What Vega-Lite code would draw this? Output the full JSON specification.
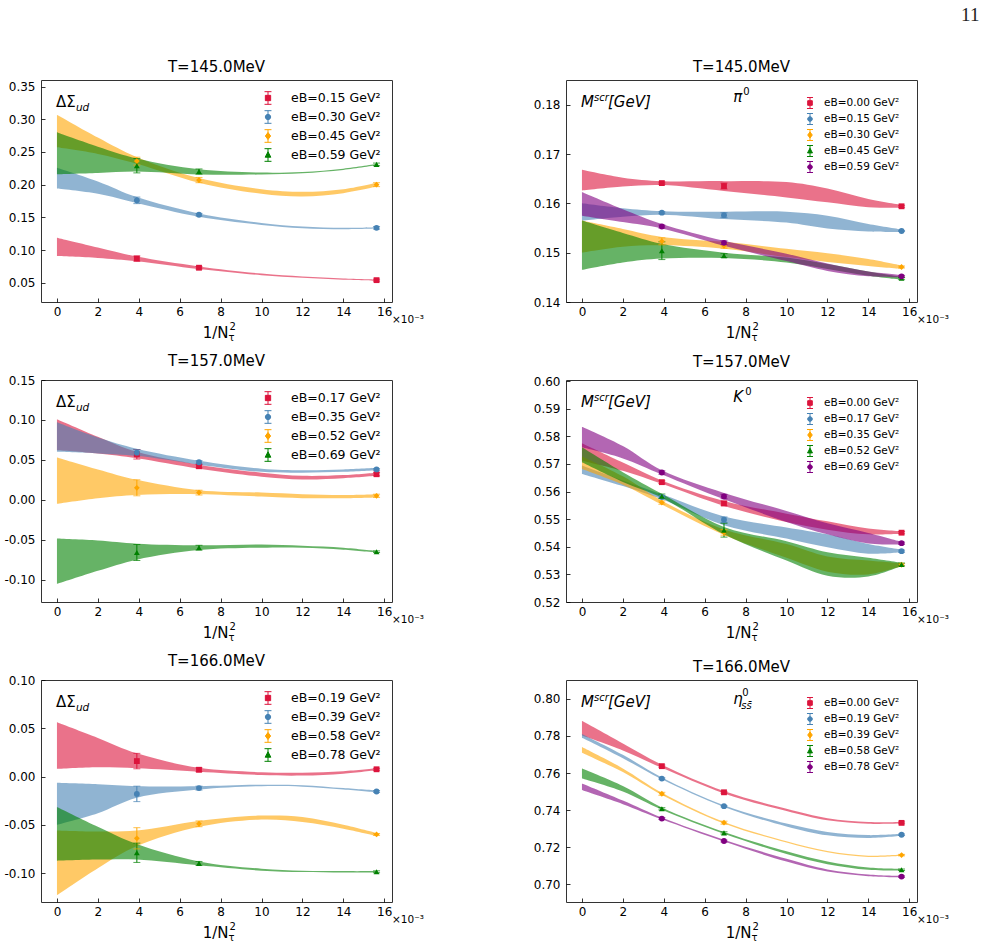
{
  "$schema": "https://vega.github.io/schema/vega-lite/v6.json",
  "padding": {"left": 3, "top": 5, "right": 5, "bottom": 5},
  "title": {"text": "11", "anchor": "end", "font": "Liberation Serif", "fontSize": 19, "fontWeight": "normal", "color": "#222", "offset": 35, "dx": 30},
  "config": {
    "font": "DejaVu Sans",
    "view": {"stroke": "#333", "strokeWidth": 1},
    "axis": {"domain": false, "grid": false, "tickSize": -4, "tickColor": "#000", "tickWidth": 0.8, "labelFontSize": 12, "labelColor": "#000", "labelOverlap": false},
    "axisX": {"labelPadding": 8},
    "axisY": {"labelPadding": 10},
    "title": {"fontSize": 15, "fontWeight": "normal", "offset": 5, "color": "#000"},
    "text": {"color": "#000"},
    "area": {"interpolate": "catmull-rom"}
  },
  "datasets": {
    "bands": [
      {"p":"A","s":"eB=0.15 GeV²","x":0,"lo":0.091,"hi":0.119},
      {"p":"A","s":"eB=0.15 GeV²","x":2,"lo":0.088,"hi":0.104},
      {"p":"A","s":"eB=0.15 GeV²","x":3.906,"lo":0.083,"hi":0.090},
      {"p":"A","s":"eB=0.15 GeV²","x":6.944,"lo":0.071,"hi":0.075},
      {"p":"A","s":"eB=0.15 GeV²","x":10,"lo":0.0615,"hi":0.064},
      {"p":"A","s":"eB=0.15 GeV²","x":12,"lo":0.0575,"hi":0.0595},
      {"p":"A","s":"eB=0.15 GeV²","x":14,"lo":0.0545,"hi":0.0565},
      {"p":"A","s":"eB=0.15 GeV²","x":15.625,"lo":0.053,"hi":0.055},
      {"p":"A","s":"eB=0.30 GeV²","x":0,"lo":0.194,"hi":0.226},
      {"p":"A","s":"eB=0.30 GeV²","x":2,"lo":0.186,"hi":0.205},
      {"p":"A","s":"eB=0.30 GeV²","x":3.906,"lo":0.172,"hi":0.181},
      {"p":"A","s":"eB=0.30 GeV²","x":6.944,"lo":0.151,"hi":0.156},
      {"p":"A","s":"eB=0.30 GeV²","x":10,"lo":0.1385,"hi":0.1415},
      {"p":"A","s":"eB=0.30 GeV²","x":12,"lo":0.1335,"hi":0.136},
      {"p":"A","s":"eB=0.30 GeV²","x":14,"lo":0.132,"hi":0.134},
      {"p":"A","s":"eB=0.30 GeV²","x":15.625,"lo":0.133,"hi":0.135},
      {"p":"A","s":"eB=0.45 GeV²","x":0,"lo":0.257,"hi":0.307},
      {"p":"A","s":"eB=0.45 GeV²","x":2,"lo":0.247,"hi":0.272},
      {"p":"A","s":"eB=0.45 GeV²","x":3.906,"lo":0.232,"hi":0.242},
      {"p":"A","s":"eB=0.45 GeV²","x":6.944,"lo":0.203,"hi":0.21},
      {"p":"A","s":"eB=0.45 GeV²","x":10,"lo":0.186,"hi":0.193},
      {"p":"A","s":"eB=0.45 GeV²","x":12,"lo":0.182,"hi":0.189},
      {"p":"A","s":"eB=0.45 GeV²","x":14,"lo":0.187,"hi":0.193},
      {"p":"A","s":"eB=0.45 GeV²","x":15.625,"lo":0.197,"hi":0.203},
      {"p":"A","s":"eB=0.59 GeV²","x":0,"lo":0.216,"hi":0.28},
      {"p":"A","s":"eB=0.59 GeV²","x":2,"lo":0.218,"hi":0.258},
      {"p":"A","s":"eB=0.59 GeV²","x":3.906,"lo":0.22,"hi":0.24},
      {"p":"A","s":"eB=0.59 GeV²","x":6.944,"lo":0.2155,"hi":0.2235},
      {"p":"A","s":"eB=0.59 GeV²","x":10,"lo":0.2155,"hi":0.2185},
      {"p":"A","s":"eB=0.59 GeV²","x":12,"lo":0.2175,"hi":0.2195},
      {"p":"A","s":"eB=0.59 GeV²","x":14,"lo":0.2225,"hi":0.2245},
      {"p":"A","s":"eB=0.59 GeV²","x":15.625,"lo":0.2295,"hi":0.2315},

      {"p":"B","s":"eB=0.00 GeV²","x":0,"lo":0.1626,"hi":0.1668},
      {"p":"B","s":"eB=0.00 GeV²","x":2,"lo":0.1634,"hi":0.1652},
      {"p":"B","s":"eB=0.00 GeV²","x":3.906,"lo":0.1637,"hi":0.1645},
      {"p":"B","s":"eB=0.00 GeV²","x":6.944,"lo":0.1625,"hi":0.1645},
      {"p":"B","s":"eB=0.00 GeV²","x":10,"lo":0.1612,"hi":0.1643},
      {"p":"B","s":"eB=0.00 GeV²","x":12,"lo":0.1602,"hi":0.163},
      {"p":"B","s":"eB=0.00 GeV²","x":14,"lo":0.1592,"hi":0.1609},
      {"p":"B","s":"eB=0.00 GeV²","x":15.625,"lo":0.1591,"hi":0.1597},
      {"p":"B","s":"eB=0.15 GeV²","x":0,"lo":0.1565,"hi":0.16},
      {"p":"B","s":"eB=0.15 GeV²","x":2,"lo":0.1573,"hi":0.159},
      {"p":"B","s":"eB=0.15 GeV²","x":3.906,"lo":0.1577,"hi":0.1584},
      {"p":"B","s":"eB=0.15 GeV²","x":6.944,"lo":0.1568,"hi":0.1583},
      {"p":"B","s":"eB=0.15 GeV²","x":10,"lo":0.1561,"hi":0.1583},
      {"p":"B","s":"eB=0.15 GeV²","x":12,"lo":0.1549,"hi":0.1575},
      {"p":"B","s":"eB=0.15 GeV²","x":14,"lo":0.1543,"hi":0.1558},
      {"p":"B","s":"eB=0.15 GeV²","x":15.625,"lo":0.1542,"hi":0.1547},
      {"p":"B","s":"eB=0.30 GeV²","x":0,"lo":0.15,"hi":0.1565},
      {"p":"B","s":"eB=0.30 GeV²","x":2,"lo":0.1512,"hi":0.1548},
      {"p":"B","s":"eB=0.30 GeV²","x":3.906,"lo":0.1515,"hi":0.1532},
      {"p":"B","s":"eB=0.30 GeV²","x":6.944,"lo":0.1508,"hi":0.1522},
      {"p":"B","s":"eB=0.30 GeV²","x":10,"lo":0.1491,"hi":0.1508},
      {"p":"B","s":"eB=0.30 GeV²","x":12,"lo":0.1481,"hi":0.1499},
      {"p":"B","s":"eB=0.30 GeV²","x":14,"lo":0.1473,"hi":0.1487},
      {"p":"B","s":"eB=0.30 GeV²","x":15.625,"lo":0.1467,"hi":0.1474},
      {"p":"B","s":"eB=0.45 GeV²","x":0,"lo":0.1465,"hi":0.1565},
      {"p":"B","s":"eB=0.45 GeV²","x":2,"lo":0.148,"hi":0.154},
      {"p":"B","s":"eB=0.45 GeV²","x":3.906,"lo":0.1488,"hi":0.1518},
      {"p":"B","s":"eB=0.45 GeV²","x":6.944,"lo":0.1489,"hi":0.15},
      {"p":"B","s":"eB=0.45 GeV²","x":10,"lo":0.148,"hi":0.149},
      {"p":"B","s":"eB=0.45 GeV²","x":12,"lo":0.1467,"hi":0.1477},
      {"p":"B","s":"eB=0.45 GeV²","x":14,"lo":0.1453,"hi":0.1462},
      {"p":"B","s":"eB=0.45 GeV²","x":15.625,"lo":0.1445,"hi":0.1451},
      {"p":"B","s":"eB=0.59 GeV²","x":0,"lo":0.1575,"hi":0.1623},
      {"p":"B","s":"eB=0.59 GeV²","x":2,"lo":0.1562,"hi":0.1588},
      {"p":"B","s":"eB=0.59 GeV²","x":3.906,"lo":0.1549,"hi":0.1558},
      {"p":"B","s":"eB=0.59 GeV²","x":6.944,"lo":0.1514,"hi":0.1524},
      {"p":"B","s":"eB=0.59 GeV²","x":10,"lo":0.1483,"hi":0.1498},
      {"p":"B","s":"eB=0.59 GeV²","x":12,"lo":0.1463,"hi":0.1478},
      {"p":"B","s":"eB=0.59 GeV²","x":14,"lo":0.1452,"hi":0.1462},
      {"p":"B","s":"eB=0.59 GeV²","x":15.625,"lo":0.145,"hi":0.1455},

      {"p":"C","s":"eB=0.17 GeV²","x":0,"lo":0.062,"hi":0.101},
      {"p":"C","s":"eB=0.17 GeV²","x":2,"lo":0.058,"hi":0.079},
      {"p":"C","s":"eB=0.17 GeV²","x":3.906,"lo":0.052,"hi":0.06},
      {"p":"C","s":"eB=0.17 GeV²","x":6.944,"lo":0.039,"hi":0.044},
      {"p":"C","s":"eB=0.17 GeV²","x":10,"lo":0.029,"hi":0.034},
      {"p":"C","s":"eB=0.17 GeV²","x":12,"lo":0.0255,"hi":0.03},
      {"p":"C","s":"eB=0.17 GeV²","x":14,"lo":0.027,"hi":0.031},
      {"p":"C","s":"eB=0.17 GeV²","x":15.625,"lo":0.03,"hi":0.034},
      {"p":"C","s":"eB=0.35 GeV²","x":0,"lo":0.06,"hi":0.097},
      {"p":"C","s":"eB=0.35 GeV²","x":2,"lo":0.058,"hi":0.078},
      {"p":"C","s":"eB=0.35 GeV²","x":3.906,"lo":0.055,"hi":0.064},
      {"p":"C","s":"eB=0.35 GeV²","x":6.944,"lo":0.044,"hi":0.049},
      {"p":"C","s":"eB=0.35 GeV²","x":10,"lo":0.035,"hi":0.039},
      {"p":"C","s":"eB=0.35 GeV²","x":12,"lo":0.034,"hi":0.037},
      {"p":"C","s":"eB=0.35 GeV²","x":14,"lo":0.035,"hi":0.038},
      {"p":"C","s":"eB=0.35 GeV²","x":15.625,"lo":0.037,"hi":0.04},
      {"p":"C","s":"eB=0.52 GeV²","x":0,"lo":-0.005,"hi":0.053},
      {"p":"C","s":"eB=0.52 GeV²","x":2,"lo":0.002,"hi":0.038},
      {"p":"C","s":"eB=0.52 GeV²","x":3.906,"lo":0.006,"hi":0.025},
      {"p":"C","s":"eB=0.52 GeV²","x":6.944,"lo":0.007,"hi":0.012},
      {"p":"C","s":"eB=0.52 GeV²","x":10,"lo":0.004,"hi":0.009},
      {"p":"C","s":"eB=0.52 GeV²","x":12,"lo":0.002,"hi":0.007},
      {"p":"C","s":"eB=0.52 GeV²","x":14,"lo":0.002,"hi":0.006},
      {"p":"C","s":"eB=0.52 GeV²","x":15.625,"lo":0.003,"hi":0.007},
      {"p":"C","s":"eB=0.69 GeV²","x":0,"lo":-0.1055,"hi":-0.0486},
      {"p":"C","s":"eB=0.69 GeV²","x":2,"lo":-0.089,"hi":-0.051},
      {"p":"C","s":"eB=0.69 GeV²","x":3.906,"lo":-0.075,"hi":-0.055},
      {"p":"C","s":"eB=0.69 GeV²","x":6.944,"lo":-0.063,"hi":-0.057},
      {"p":"C","s":"eB=0.69 GeV²","x":10,"lo":-0.06,"hi":-0.056},
      {"p":"C","s":"eB=0.69 GeV²","x":12,"lo":-0.06,"hi":-0.0575},
      {"p":"C","s":"eB=0.69 GeV²","x":14,"lo":-0.0625,"hi":-0.06},
      {"p":"C","s":"eB=0.69 GeV²","x":15.625,"lo":-0.066,"hi":-0.064},

      {"p":"D","s":"eB=0.00 GeV²","x":0,"lo":0.5712,"hi":0.5775},
      {"p":"D","s":"eB=0.00 GeV²","x":2,"lo":0.5675,"hi":0.5705},
      {"p":"D","s":"eB=0.00 GeV²","x":3.906,"lo":0.5628,"hi":0.564},
      {"p":"D","s":"eB=0.00 GeV²","x":6.944,"lo":0.5548,"hi":0.5566},
      {"p":"D","s":"eB=0.00 GeV²","x":10,"lo":0.549,"hi":0.552},
      {"p":"D","s":"eB=0.00 GeV²","x":12,"lo":0.5462,"hi":0.5492},
      {"p":"D","s":"eB=0.00 GeV²","x":14,"lo":0.5445,"hi":0.5466},
      {"p":"D","s":"eB=0.00 GeV²","x":15.625,"lo":0.5447,"hi":0.5456},
      {"p":"D","s":"eB=0.17 GeV²","x":0,"lo":0.5664,"hi":0.5694},
      {"p":"D","s":"eB=0.17 GeV²","x":2,"lo":0.562,"hi":0.564},
      {"p":"D","s":"eB=0.17 GeV²","x":3.906,"lo":0.5572,"hi":0.559},
      {"p":"D","s":"eB=0.17 GeV²","x":6.944,"lo":0.5478,"hi":0.551},
      {"p":"D","s":"eB=0.17 GeV²","x":10,"lo":0.543,"hi":0.547},
      {"p":"D","s":"eB=0.17 GeV²","x":12,"lo":0.5398,"hi":0.5445},
      {"p":"D","s":"eB=0.17 GeV²","x":14,"lo":0.5375,"hi":0.541},
      {"p":"D","s":"eB=0.17 GeV²","x":15.625,"lo":0.538,"hi":0.539},
      {"p":"D","s":"eB=0.35 GeV²","x":0,"lo":0.5682,"hi":0.5727},
      {"p":"D","s":"eB=0.35 GeV²","x":2,"lo":0.5625,"hi":0.5655},
      {"p":"D","s":"eB=0.35 GeV²","x":3.906,"lo":0.5553,"hi":0.5567},
      {"p":"D","s":"eB=0.35 GeV²","x":6.944,"lo":0.5443,"hi":0.5463},
      {"p":"D","s":"eB=0.35 GeV²","x":10,"lo":0.536,"hi":0.541},
      {"p":"D","s":"eB=0.35 GeV²","x":12,"lo":0.531,"hi":0.5365},
      {"p":"D","s":"eB=0.35 GeV²","x":14,"lo":0.53,"hi":0.535},
      {"p":"D","s":"eB=0.35 GeV²","x":15.625,"lo":0.533,"hi":0.534},
      {"p":"D","s":"eB=0.52 GeV²","x":0,"lo":0.5706,"hi":0.576},
      {"p":"D","s":"eB=0.52 GeV²","x":2,"lo":0.5635,"hi":0.567},
      {"p":"D","s":"eB=0.52 GeV²","x":3.906,"lo":0.5578,"hi":0.5592},
      {"p":"D","s":"eB=0.52 GeV²","x":6.944,"lo":0.5445,"hi":0.5472},
      {"p":"D","s":"eB=0.52 GeV²","x":10,"lo":0.535,"hi":0.542},
      {"p":"D","s":"eB=0.52 GeV²","x":12,"lo":0.5295,"hi":0.538},
      {"p":"D","s":"eB=0.52 GeV²","x":14,"lo":0.5292,"hi":0.536},
      {"p":"D","s":"eB=0.52 GeV²","x":15.625,"lo":0.533,"hi":0.5342},
      {"p":"D","s":"eB=0.69 GeV²","x":0,"lo":0.576,"hi":0.5835},
      {"p":"D","s":"eB=0.69 GeV²","x":2,"lo":0.572,"hi":0.5765},
      {"p":"D","s":"eB=0.69 GeV²","x":3.906,"lo":0.5662,"hi":0.5677},
      {"p":"D","s":"eB=0.69 GeV²","x":6.944,"lo":0.5572,"hi":0.5595},
      {"p":"D","s":"eB=0.69 GeV²","x":10,"lo":0.549,"hi":0.553},
      {"p":"D","s":"eB=0.69 GeV²","x":12,"lo":0.5445,"hi":0.5485},
      {"p":"D","s":"eB=0.69 GeV²","x":14,"lo":0.5412,"hi":0.545},
      {"p":"D","s":"eB=0.69 GeV²","x":15.625,"lo":0.5408,"hi":0.5418},

      {"p":"E","s":"eB=0.19 GeV²","x":0,"lo":0.0078,"hi":0.0562},
      {"p":"E","s":"eB=0.19 GeV²","x":2,"lo":0.0095,"hi":0.04},
      {"p":"E","s":"eB=0.19 GeV²","x":3.906,"lo":0.0085,"hi":0.024},
      {"p":"E","s":"eB=0.19 GeV²","x":6.944,"lo":0.005,"hi":0.009},
      {"p":"E","s":"eB=0.19 GeV²","x":10,"lo":0.0015,"hi":0.0045},
      {"p":"E","s":"eB=0.19 GeV²","x":12,"lo":0.001,"hi":0.004},
      {"p":"E","s":"eB=0.19 GeV²","x":14,"lo":0.003,"hi":0.0055},
      {"p":"E","s":"eB=0.19 GeV²","x":15.625,"lo":0.0065,"hi":0.0085},
      {"p":"E","s":"eB=0.39 GeV²","x":0,"lo":-0.05,"hi":-0.0065},
      {"p":"E","s":"eB=0.39 GeV²","x":2,"lo":-0.038,"hi":-0.008},
      {"p":"E","s":"eB=0.39 GeV²","x":3.906,"lo":-0.022,"hi":-0.01},
      {"p":"E","s":"eB=0.39 GeV²","x":6.944,"lo":-0.0135,"hi":-0.01},
      {"p":"E","s":"eB=0.39 GeV²","x":10,"lo":-0.01,"hi":-0.0085},
      {"p":"E","s":"eB=0.39 GeV²","x":12,"lo":-0.0105,"hi":-0.009},
      {"p":"E","s":"eB=0.39 GeV²","x":14,"lo":-0.0135,"hi":-0.012},
      {"p":"E","s":"eB=0.39 GeV²","x":15.625,"lo":-0.0165,"hi":-0.0145},
      {"p":"E","s":"eB=0.58 GeV²","x":0,"lo":-0.123,"hi":-0.0559},
      {"p":"E","s":"eB=0.58 GeV²","x":2,"lo":-0.095,"hi":-0.057},
      {"p":"E","s":"eB=0.58 GeV²","x":3.906,"lo":-0.072,"hi":-0.056},
      {"p":"E","s":"eB=0.58 GeV²","x":6.944,"lo":-0.052,"hi":-0.046},
      {"p":"E","s":"eB=0.58 GeV²","x":10,"lo":-0.0445,"hi":-0.0405},
      {"p":"E","s":"eB=0.58 GeV²","x":12,"lo":-0.047,"hi":-0.042},
      {"p":"E","s":"eB=0.58 GeV²","x":14,"lo":-0.054,"hi":-0.05},
      {"p":"E","s":"eB=0.58 GeV²","x":15.625,"lo":-0.0615,"hi":-0.0585},
      {"p":"E","s":"eB=0.78 GeV²","x":0,"lo":-0.0872,"hi":-0.0315},
      {"p":"E","s":"eB=0.78 GeV²","x":2,"lo":-0.086,"hi":-0.052},
      {"p":"E","s":"eB=0.78 GeV²","x":3.906,"lo":-0.086,"hi":-0.07},
      {"p":"E","s":"eB=0.78 GeV²","x":6.944,"lo":-0.092,"hi":-0.088},
      {"p":"E","s":"eB=0.78 GeV²","x":10,"lo":-0.0975,"hi":-0.0955},
      {"p":"E","s":"eB=0.78 GeV²","x":12,"lo":-0.099,"hi":-0.0975},
      {"p":"E","s":"eB=0.78 GeV²","x":14,"lo":-0.0995,"hi":-0.098},
      {"p":"E","s":"eB=0.78 GeV²","x":15.625,"lo":-0.0995,"hi":-0.098},

      {"p":"F","s":"eB=0.00 GeV²","x":0,"lo":0.7802,"hi":0.7882},
      {"p":"F","s":"eB=0.00 GeV²","x":2,"lo":0.7722,"hi":0.776},
      {"p":"F","s":"eB=0.00 GeV²","x":3.906,"lo":0.7628,"hi":0.7645},
      {"p":"F","s":"eB=0.00 GeV²","x":6.944,"lo":0.749,"hi":0.7503},
      {"p":"F","s":"eB=0.00 GeV²","x":10,"lo":0.7395,"hi":0.7407},
      {"p":"F","s":"eB=0.00 GeV²","x":12,"lo":0.7345,"hi":0.7356},
      {"p":"F","s":"eB=0.00 GeV²","x":14,"lo":0.7326,"hi":0.7336},
      {"p":"F","s":"eB=0.00 GeV²","x":15.625,"lo":0.7327,"hi":0.7336},
      {"p":"F","s":"eB=0.19 GeV²","x":0,"lo":0.779,"hi":0.7811},
      {"p":"F","s":"eB=0.19 GeV²","x":2,"lo":0.768,"hi":0.7698},
      {"p":"F","s":"eB=0.19 GeV²","x":3.906,"lo":0.7566,"hi":0.7576},
      {"p":"F","s":"eB=0.19 GeV²","x":6.944,"lo":0.7417,"hi":0.7426},
      {"p":"F","s":"eB=0.19 GeV²","x":10,"lo":0.7312,"hi":0.7327},
      {"p":"F","s":"eB=0.19 GeV²","x":12,"lo":0.7264,"hi":0.7282},
      {"p":"F","s":"eB=0.19 GeV²","x":14,"lo":0.725,"hi":0.7265},
      {"p":"F","s":"eB=0.19 GeV²","x":15.625,"lo":0.7262,"hi":0.7272},
      {"p":"F","s":"eB=0.39 GeV²","x":0,"lo":0.771,"hi":0.774},
      {"p":"F","s":"eB=0.39 GeV²","x":2,"lo":0.7605,"hi":0.7625},
      {"p":"F","s":"eB=0.39 GeV²","x":3.906,"lo":0.7482,"hi":0.7494},
      {"p":"F","s":"eB=0.39 GeV²","x":6.944,"lo":0.7328,"hi":0.7336},
      {"p":"F","s":"eB=0.39 GeV²","x":10,"lo":0.7225,"hi":0.7232},
      {"p":"F","s":"eB=0.39 GeV²","x":12,"lo":0.7172,"hi":0.7179},
      {"p":"F","s":"eB=0.39 GeV²","x":14,"lo":0.7147,"hi":0.7154},
      {"p":"F","s":"eB=0.39 GeV²","x":15.625,"lo":0.7153,"hi":0.716},
      {"p":"F","s":"eB=0.58 GeV²","x":0,"lo":0.757,"hi":0.7624},
      {"p":"F","s":"eB=0.58 GeV²","x":2,"lo":0.75,"hi":0.753},
      {"p":"F","s":"eB=0.58 GeV²","x":3.906,"lo":0.7402,"hi":0.7414},
      {"p":"F","s":"eB=0.58 GeV²","x":6.944,"lo":0.7272,"hi":0.7282},
      {"p":"F","s":"eB=0.58 GeV²","x":10,"lo":0.7163,"hi":0.7178},
      {"p":"F","s":"eB=0.58 GeV²","x":12,"lo":0.7108,"hi":0.7123},
      {"p":"F","s":"eB=0.58 GeV²","x":14,"lo":0.7078,"hi":0.709},
      {"p":"F","s":"eB=0.58 GeV²","x":15.625,"lo":0.7074,"hi":0.7083},
      {"p":"F","s":"eB=0.78 GeV²","x":0,"lo":0.7508,"hi":0.7544},
      {"p":"F","s":"eB=0.78 GeV²","x":2,"lo":0.7432,"hi":0.7452},
      {"p":"F","s":"eB=0.78 GeV²","x":3.906,"lo":0.735,"hi":0.736},
      {"p":"F","s":"eB=0.78 GeV²","x":6.944,"lo":0.723,"hi":0.724},
      {"p":"F","s":"eB=0.78 GeV²","x":10,"lo":0.7122,"hi":0.7137},
      {"p":"F","s":"eB=0.78 GeV²","x":12,"lo":0.7068,"hi":0.708},
      {"p":"F","s":"eB=0.78 GeV²","x":14,"lo":0.7043,"hi":0.7053},
      {"p":"F","s":"eB=0.78 GeV²","x":15.625,"lo":0.7037,"hi":0.7045}
    ],
    "pts": [
      {"p":"A","s":"eB=0.15 GeV²","x":3.906,"y":0.087,"lo":0.083,"hi":0.091},
      {"p":"A","s":"eB=0.15 GeV²","x":6.944,"y":0.073,"lo":0.071,"hi":0.075},
      {"p":"A","s":"eB=0.15 GeV²","x":15.625,"y":0.054,"lo":0.0525,"hi":0.0555},
      {"p":"A","s":"eB=0.30 GeV²","x":3.906,"y":0.176,"lo":0.171,"hi":0.181},
      {"p":"A","s":"eB=0.30 GeV²","x":6.944,"y":0.154,"lo":0.152,"hi":0.156},
      {"p":"A","s":"eB=0.30 GeV²","x":15.625,"y":0.134,"lo":0.132,"hi":0.136},
      {"p":"A","s":"eB=0.45 GeV²","x":3.906,"y":0.236,"lo":0.23,"hi":0.242},
      {"p":"A","s":"eB=0.45 GeV²","x":6.944,"y":0.207,"lo":0.203,"hi":0.211},
      {"p":"A","s":"eB=0.45 GeV²","x":15.625,"y":0.2,"lo":0.197,"hi":0.203},
      {"p":"A","s":"eB=0.59 GeV²","x":3.906,"y":0.229,"lo":0.218,"hi":0.24},
      {"p":"A","s":"eB=0.59 GeV²","x":6.944,"y":0.22,"lo":0.216,"hi":0.224},
      {"p":"A","s":"eB=0.59 GeV²","x":15.625,"y":0.231,"lo":0.229,"hi":0.233},

      {"p":"B","s":"eB=0.00 GeV²","x":3.906,"y":0.1641,"lo":0.1639,"hi":0.1643},
      {"p":"B","s":"eB=0.00 GeV²","x":6.944,"y":0.1635,"lo":0.1629,"hi":0.1641},
      {"p":"B","s":"eB=0.00 GeV²","x":15.625,"y":0.1594,"lo":0.1592,"hi":0.1596},
      {"p":"B","s":"eB=0.15 GeV²","x":3.906,"y":0.1581,"lo":0.1579,"hi":0.1583},
      {"p":"B","s":"eB=0.15 GeV²","x":6.944,"y":0.1576,"lo":0.1571,"hi":0.1581},
      {"p":"B","s":"eB=0.15 GeV²","x":15.625,"y":0.1544,"lo":0.1543,"hi":0.1545},
      {"p":"B","s":"eB=0.30 GeV²","x":3.906,"y":0.1523,"lo":0.1516,"hi":0.153},
      {"p":"B","s":"eB=0.30 GeV²","x":6.944,"y":0.1514,"lo":0.1509,"hi":0.1519},
      {"p":"B","s":"eB=0.30 GeV²","x":15.625,"y":0.1471,"lo":0.1469,"hi":0.1473},
      {"p":"B","s":"eB=0.45 GeV²","x":3.906,"y":0.1504,"lo":0.1486,"hi":0.1522},
      {"p":"B","s":"eB=0.45 GeV²","x":6.944,"y":0.1494,"lo":0.149,"hi":0.1498},
      {"p":"B","s":"eB=0.45 GeV²","x":15.625,"y":0.1448,"lo":0.1446,"hi":0.145},
      {"p":"B","s":"eB=0.59 GeV²","x":3.906,"y":0.1553,"lo":0.155,"hi":0.1556},
      {"p":"B","s":"eB=0.59 GeV²","x":6.944,"y":0.152,"lo":0.1516,"hi":0.1524},
      {"p":"B","s":"eB=0.59 GeV²","x":15.625,"y":0.1452,"lo":0.145,"hi":0.1454},

      {"p":"C","s":"eB=0.17 GeV²","x":3.906,"y":0.057,"lo":0.051,"hi":0.063},
      {"p":"C","s":"eB=0.17 GeV²","x":6.944,"y":0.042,"lo":0.04,"hi":0.044},
      {"p":"C","s":"eB=0.17 GeV²","x":15.625,"y":0.032,"lo":0.03,"hi":0.034},
      {"p":"C","s":"eB=0.35 GeV²","x":3.906,"y":0.059,"lo":0.055,"hi":0.063},
      {"p":"C","s":"eB=0.35 GeV²","x":6.944,"y":0.047,"lo":0.045,"hi":0.049},
      {"p":"C","s":"eB=0.35 GeV²","x":15.625,"y":0.038,"lo":0.037,"hi":0.039},
      {"p":"C","s":"eB=0.52 GeV²","x":3.906,"y":0.015,"lo":0.005,"hi":0.025},
      {"p":"C","s":"eB=0.52 GeV²","x":6.944,"y":0.009,"lo":0.006,"hi":0.012},
      {"p":"C","s":"eB=0.52 GeV²","x":15.625,"y":0.005,"lo":0.003,"hi":0.007},
      {"p":"C","s":"eB=0.69 GeV²","x":3.906,"y":-0.066,"lo":-0.076,"hi":-0.056},
      {"p":"C","s":"eB=0.69 GeV²","x":6.944,"y":-0.06,"lo":-0.063,"hi":-0.057},
      {"p":"C","s":"eB=0.69 GeV²","x":15.625,"y":-0.065,"lo":-0.066,"hi":-0.064},

      {"p":"D","s":"eB=0.00 GeV²","x":3.906,"y":0.5634,"lo":0.5629,"hi":0.5639},
      {"p":"D","s":"eB=0.00 GeV²","x":6.944,"y":0.5557,"lo":0.5549,"hi":0.5565},
      {"p":"D","s":"eB=0.00 GeV²","x":15.625,"y":0.5451,"lo":0.5447,"hi":0.5455},
      {"p":"D","s":"eB=0.17 GeV²","x":3.906,"y":0.558,"lo":0.5575,"hi":0.5585},
      {"p":"D","s":"eB=0.17 GeV²","x":6.944,"y":0.5498,"lo":0.5488,"hi":0.5508},
      {"p":"D","s":"eB=0.17 GeV²","x":15.625,"y":0.5384,"lo":0.538,"hi":0.5388},
      {"p":"D","s":"eB=0.35 GeV²","x":3.906,"y":0.556,"lo":0.5554,"hi":0.5566},
      {"p":"D","s":"eB=0.35 GeV²","x":6.944,"y":0.5452,"lo":0.5442,"hi":0.5462},
      {"p":"D","s":"eB=0.35 GeV²","x":15.625,"y":0.5335,"lo":0.533,"hi":0.534},
      {"p":"D","s":"eB=0.52 GeV²","x":3.906,"y":0.5583,"lo":0.5575,"hi":0.5591},
      {"p":"D","s":"eB=0.52 GeV²","x":6.944,"y":0.546,"lo":0.5435,"hi":0.5485},
      {"p":"D","s":"eB=0.52 GeV²","x":15.625,"y":0.5336,"lo":0.5331,"hi":0.5341},
      {"p":"D","s":"eB=0.69 GeV²","x":3.906,"y":0.5669,"lo":0.5663,"hi":0.5675},
      {"p":"D","s":"eB=0.69 GeV²","x":6.944,"y":0.5582,"lo":0.5574,"hi":0.559},
      {"p":"D","s":"eB=0.69 GeV²","x":15.625,"y":0.5413,"lo":0.5409,"hi":0.5417},

      {"p":"E","s":"eB=0.19 GeV²","x":3.906,"y":0.016,"lo":0.008,"hi":0.024},
      {"p":"E","s":"eB=0.19 GeV²","x":6.944,"y":0.007,"lo":0.005,"hi":0.009},
      {"p":"E","s":"eB=0.19 GeV²","x":15.625,"y":0.0075,"lo":0.0065,"hi":0.0085},
      {"p":"E","s":"eB=0.39 GeV²","x":3.906,"y":-0.018,"lo":-0.026,"hi":-0.01},
      {"p":"E","s":"eB=0.39 GeV²","x":6.944,"y":-0.012,"lo":-0.014,"hi":-0.01},
      {"p":"E","s":"eB=0.39 GeV²","x":15.625,"y":-0.0155,"lo":-0.0165,"hi":-0.0145},
      {"p":"E","s":"eB=0.58 GeV²","x":3.906,"y":-0.064,"lo":-0.075,"hi":-0.053},
      {"p":"E","s":"eB=0.58 GeV²","x":6.944,"y":-0.049,"lo":-0.052,"hi":-0.046},
      {"p":"E","s":"eB=0.58 GeV²","x":15.625,"y":-0.06,"lo":-0.061,"hi":-0.059},
      {"p":"E","s":"eB=0.78 GeV²","x":3.906,"y":-0.079,"lo":-0.089,"hi":-0.069},
      {"p":"E","s":"eB=0.78 GeV²","x":6.944,"y":-0.09,"lo":-0.092,"hi":-0.088},
      {"p":"E","s":"eB=0.78 GeV²","x":15.625,"y":-0.0987,"lo":-0.0997,"hi":-0.0977},

      {"p":"F","s":"eB=0.00 GeV²","x":3.906,"y":0.7637,"lo":0.7631,"hi":0.7643},
      {"p":"F","s":"eB=0.00 GeV²","x":6.944,"y":0.7496,"lo":0.7491,"hi":0.7501},
      {"p":"F","s":"eB=0.00 GeV²","x":15.625,"y":0.7331,"lo":0.7326,"hi":0.7336},
      {"p":"F","s":"eB=0.19 GeV²","x":3.906,"y":0.757,"lo":0.7566,"hi":0.7574},
      {"p":"F","s":"eB=0.19 GeV²","x":6.944,"y":0.7421,"lo":0.7417,"hi":0.7425},
      {"p":"F","s":"eB=0.19 GeV²","x":15.625,"y":0.7267,"lo":0.7263,"hi":0.7271},
      {"p":"F","s":"eB=0.39 GeV²","x":3.906,"y":0.7488,"lo":0.748,"hi":0.7496},
      {"p":"F","s":"eB=0.39 GeV²","x":6.944,"y":0.7332,"lo":0.7324,"hi":0.734},
      {"p":"F","s":"eB=0.39 GeV²","x":15.625,"y":0.7157,"lo":0.7153,"hi":0.7161},
      {"p":"F","s":"eB=0.58 GeV²","x":3.906,"y":0.7407,"lo":0.7401,"hi":0.7413},
      {"p":"F","s":"eB=0.58 GeV²","x":6.944,"y":0.7277,"lo":0.7271,"hi":0.7283},
      {"p":"F","s":"eB=0.58 GeV²","x":15.625,"y":0.7078,"lo":0.7074,"hi":0.7082},
      {"p":"F","s":"eB=0.78 GeV²","x":3.906,"y":0.7354,"lo":0.7349,"hi":0.7359},
      {"p":"F","s":"eB=0.78 GeV²","x":6.944,"y":0.7233,"lo":0.7228,"hi":0.7238},
      {"p":"F","s":"eB=0.78 GeV²","x":15.625,"y":0.7041,"lo":0.7037,"hi":0.7045}
    ]
  },
  "columns": 2,
  "spacing": {"row": 78, "column": 174},
  "bounds": "flush",
  "resolve": {"scale": {"x": "independent", "y": "independent", "color": "independent", "shape": "independent"}, "legend": {"color": "independent", "shape": "independent"}},
  "concat": [
    {
      "title": "T=145.0MeV", "width": 351, "height": 222,
      "layer": [
        {"data": {"name": "pts"}, "transform": [{"filter": "datum.p == 'A'"}],
         "mark": {"type": "point", "filled": true, "opacity": 0, "size": 34},
         "encoding": {"x": {"field": "x", "type": "quantitative"}, "y": {"field": "y", "type": "quantitative"},
           "color": {"field": "s", "type": "nominal", "legend": {"orient": "top-right", "offset": 11, "padding": 0, "title": null, "labelFontSize": 12.5, "labelOffset": 16, "rowPadding": 1, "symbolSize": 160, "labelColor": "#000",
             "encode": {"symbols": {"update": {
               "shape": {"signal": "['M-0.42,-0.42H0.42V0.42H-0.42Z M0,-1V1 M-0.55,-1H0.55 M-0.55,1H0.55','M0.42,0A0.42,0.42,0,1,1,-0.42,0A0.42,0.42,0,1,1,0.42,0Z M0,-1V1 M-0.55,-1H0.55 M-0.55,1H0.55','M0,-0.55L0.42,0L0,0.55L-0.42,0Z M0,-1V1 M-0.55,-1H0.55 M-0.55,1H0.55','M0,-0.5L0.45,0.35H-0.45Z M0,-1V1 M-0.55,-1H0.55 M-0.55,1H0.55'][datum.index]"},
               "stroke": {"signal": "['#dc143c','#4682b4','#ffa500','#008000'][datum.index]"},
               "strokeWidth": {"value": 1}, "opacity": {"value": 1}}}}}}}},
        {"data": {"name": "bands"}, "transform": [{"filter": "datum.p == 'A'"}],
         "mark": {"type": "area", "opacity": 0.6},
         "encoding": {
           "x": {"field": "x", "type": "quantitative", "scale": {"domain": [-0.78, 16.38], "nice": false, "zero": false}, "axis": {"title": null, "values": [0,2,4,6,8,10,12,14,16], "tickCount": 20, "format": "d", "labelOverlap": false}},
           "y": {"field": "lo", "type": "quantitative", "scale": {"domain": [0.0206, 0.36], "nice": false, "zero": false}, "axis": {"title": null, "values": [0.05,0.1,0.15,0.2,0.25,0.3,0.35], "tickCount": 20, "labelOverlap": false, "labelExpr": "replace(format(datum.value, '.2f'), '\u2212', '-')"}},
           "y2": {"field": "hi"},
           "color": {"field": "s", "type": "nominal", "scale": {"domain": ["eB=0.15 GeV²","eB=0.30 GeV²","eB=0.45 GeV²","eB=0.59 GeV²"], "range": ["#dc143c","#4682b4","#ffa500","#008000"]}}}},
        {"data": {"name": "pts"}, "transform": [{"filter": "datum.p == 'A'"}],
         "mark": {"type": "rule", "strokeWidth": 1},
         "encoding": {"x": {"field": "x", "type": "quantitative"}, "y": {"field": "lo", "type": "quantitative"}, "y2": {"field": "hi"}, "color": {"field": "s", "type": "nominal"}}},
        {"data": {"name": "pts"}, "transform": [{"filter": "datum.p == 'A'"}],
         "mark": {"type": "tick", "orient": "horizontal", "size": 7, "thickness": 1},
         "encoding": {"x": {"field": "x", "type": "quantitative"}, "y": {"field": "lo", "type": "quantitative"}, "color": {"field": "s", "type": "nominal"}}},
        {"data": {"name": "pts"}, "transform": [{"filter": "datum.p == 'A'"}],
         "mark": {"type": "tick", "orient": "horizontal", "size": 7, "thickness": 1},
         "encoding": {"x": {"field": "x", "type": "quantitative"}, "y": {"field": "hi", "type": "quantitative"}, "color": {"field": "s", "type": "nominal"}}},
        {"data": {"name": "pts"}, "transform": [{"filter": "datum.p == 'A'"}],
         "mark": {"type": "point", "filled": true, "opacity": 1, "size": 34},
         "encoding": {"x": {"field": "x", "type": "quantitative"}, "y": {"field": "y", "type": "quantitative"},
           "shape": {"field": "s", "type": "nominal", "scale": {"range": ["square","circle","diamond","triangle-up"]}, "legend": null},
           "color": {"field": "s", "type": "nominal"}}},
        {"data": {"values": [{}]}, "mark": {"type": "text", "text": "ΔΣ", "align": "left", "baseline": "alphabetic", "fontSize": 15, "dx": -1, "dy": 27}, "encoding": {"x": {"datum": 0}, "y": {"datum": 0.36}}},
        {"data": {"values": [{}]}, "mark": {"type": "text", "text": "ud", "align": "left", "baseline": "alphabetic", "fontSize": 10.5, "fontStyle": "italic", "dx": 19, "dy": 31}, "encoding": {"x": {"datum": 0}, "y": {"datum": 0.36}}},
        {"data": {"values": [{}]}, "mark": {"type": "text", "text": "1/N", "align": "right", "baseline": "alphabetic", "fontSize": 15, "dx": 12, "dy": 36}, "encoding": {"x": {"datum": 7.8}, "y": {"datum": 0.0206}}},
        {"data": {"values": [{}]}, "mark": {"type": "text", "text": "2", "align": "left", "baseline": "alphabetic", "fontSize": 10, "dx": 13, "dy": 28}, "encoding": {"x": {"datum": 7.8}, "y": {"datum": 0.0206}}},
        {"data": {"values": [{}]}, "mark": {"type": "text", "text": "τ", "align": "left", "baseline": "alphabetic", "fontSize": 10, "dx": 12, "dy": 39}, "encoding": {"x": {"datum": 7.8}, "y": {"datum": 0.0206}}},
        {"data": {"values": [{}]}, "mark": {"type": "text", "text": "×10⁻³", "align": "left", "baseline": "top", "fontSize": 10.5, "dx": 0, "dy": 13}, "encoding": {"x": {"datum": 16.38}, "y": {"datum": 0.0206}}}
      ]
    },
    {
      "title": "T=145.0MeV", "width": 351, "height": 222,
      "layer": [
        {"data": {"name": "pts"}, "transform": [{"filter": "datum.p == 'B'"}],
         "mark": {"type": "point", "filled": true, "opacity": 0, "size": 34},
         "encoding": {"x": {"field": "x", "type": "quantitative"}, "y": {"field": "y", "type": "quantitative"},
           "color": {"field": "s", "type": "nominal", "legend": {"orient": "top-right", "offset": 17, "padding": 0, "title": null, "labelFontSize": 10.5, "labelOffset": 8, "rowPadding": 0, "symbolSize": 121, "labelColor": "#000",
             "encode": {"symbols": {"update": {
               "shape": {"signal": "['M-0.42,-0.42H0.42V0.42H-0.42Z M0,-1V1 M-0.55,-1H0.55 M-0.55,1H0.55','M0.42,0A0.42,0.42,0,1,1,-0.42,0A0.42,0.42,0,1,1,0.42,0Z M0,-1V1 M-0.55,-1H0.55 M-0.55,1H0.55','M0,-0.55L0.42,0L0,0.55L-0.42,0Z M0,-1V1 M-0.55,-1H0.55 M-0.55,1H0.55','M0,-0.5L0.45,0.35H-0.45Z M0,-1V1 M-0.55,-1H0.55 M-0.55,1H0.55','M0.42,0A0.42,0.42,0,1,1,-0.42,0A0.42,0.42,0,1,1,0.42,0Z M0,-1V1 M-0.55,-1H0.55 M-0.55,1H0.55'][datum.index]"},
               "stroke": {"signal": "['#dc143c','#4682b4','#ffa500','#008000','#800080'][datum.index]"},
               "strokeWidth": {"value": 1}, "opacity": {"value": 1}}}}}}}},
        {"data": {"name": "bands"}, "transform": [{"filter": "datum.p == 'B'"}],
         "mark": {"type": "area", "opacity": 0.6},
         "encoding": {
           "x": {"field": "x", "type": "quantitative", "scale": {"domain": [-0.78, 16.38], "nice": false, "zero": false}, "axis": {"title": null, "values": [0,2,4,6,8,10,12,14,16], "tickCount": 20, "format": "d", "labelOverlap": false}},
           "y": {"field": "lo", "type": "quantitative", "scale": {"domain": [0.14, 0.185], "nice": false, "zero": false}, "axis": {"title": null, "values": [0.14,0.15,0.16,0.17,0.18], "tickCount": 20, "labelOverlap": false, "labelExpr": "replace(format(datum.value, '.2f'), '\u2212', '-')"}},
           "y2": {"field": "hi"},
           "color": {"field": "s", "type": "nominal", "scale": {"domain": ["eB=0.00 GeV²","eB=0.15 GeV²","eB=0.30 GeV²","eB=0.45 GeV²","eB=0.59 GeV²"], "range": ["#dc143c","#4682b4","#ffa500","#008000","#800080"]}}}},
        {"data": {"name": "pts"}, "transform": [{"filter": "datum.p == 'B'"}],
         "mark": {"type": "rule", "strokeWidth": 1},
         "encoding": {"x": {"field": "x", "type": "quantitative"}, "y": {"field": "lo", "type": "quantitative"}, "y2": {"field": "hi"}, "color": {"field": "s", "type": "nominal"}}},
        {"data": {"name": "pts"}, "transform": [{"filter": "datum.p == 'B'"}],
         "mark": {"type": "tick", "orient": "horizontal", "size": 7, "thickness": 1},
         "encoding": {"x": {"field": "x", "type": "quantitative"}, "y": {"field": "lo", "type": "quantitative"}, "color": {"field": "s", "type": "nominal"}}},
        {"data": {"name": "pts"}, "transform": [{"filter": "datum.p == 'B'"}],
         "mark": {"type": "tick", "orient": "horizontal", "size": 7, "thickness": 1},
         "encoding": {"x": {"field": "x", "type": "quantitative"}, "y": {"field": "hi", "type": "quantitative"}, "color": {"field": "s", "type": "nominal"}}},
        {"data": {"name": "pts"}, "transform": [{"filter": "datum.p == 'B'"}],
         "mark": {"type": "point", "filled": true, "opacity": 1, "size": 34},
         "encoding": {"x": {"field": "x", "type": "quantitative"}, "y": {"field": "y", "type": "quantitative"},
           "shape": {"field": "s", "type": "nominal", "scale": {"range": ["square","circle","diamond","triangle-up","circle"]}, "legend": null},
           "color": {"field": "s", "type": "nominal"}}},
        {"data": {"values": [{}]}, "mark": {"type": "text", "text": "M", "align": "left", "baseline": "alphabetic", "fontSize": 15, "fontStyle": "italic", "dx": -1, "dy": 27}, "encoding": {"x": {"datum": 0}, "y": {"datum": 0.185}}},
        {"data": {"values": [{}]}, "mark": {"type": "text", "text": "scr", "align": "left", "baseline": "alphabetic", "fontSize": 10, "fontStyle": "italic", "dx": 12, "dy": 21}, "encoding": {"x": {"datum": 0}, "y": {"datum": 0.185}}},
        {"data": {"values": [{}]}, "mark": {"type": "text", "text": "[GeV]", "align": "left", "baseline": "alphabetic", "fontSize": 15, "fontStyle": "italic", "dx": 26, "dy": 27}, "encoding": {"x": {"datum": 0}, "y": {"datum": 0.185}}},
        {"data": {"values": [{}]}, "mark": {"type": "text", "text": "π", "align": "left", "baseline": "alphabetic", "fontSize": 15, "fontStyle": "italic", "dy": 22}, "encoding": {"x": {"datum": 7.4}, "y": {"datum": 0.185}}},
        {"data": {"values": [{}]}, "mark": {"type": "text", "text": "0", "align": "left", "baseline": "alphabetic", "fontSize": 10, "dx": 10, "dy": 15}, "encoding": {"x": {"datum": 7.4}, "y": {"datum": 0.185}}},
        {"data": {"values": [{}]}, "mark": {"type": "text", "text": "1/N", "align": "right", "baseline": "alphabetic", "fontSize": 15, "dx": 10, "dy": 36}, "encoding": {"x": {"datum": 7.8}, "y": {"datum": 0.14}}},
        {"data": {"values": [{}]}, "mark": {"type": "text", "text": "2", "align": "left", "baseline": "alphabetic", "fontSize": 10, "dx": 11, "dy": 28}, "encoding": {"x": {"datum": 7.8}, "y": {"datum": 0.14}}},
        {"data": {"values": [{}]}, "mark": {"type": "text", "text": "τ", "align": "left", "baseline": "alphabetic", "fontSize": 10, "dx": 10, "dy": 39}, "encoding": {"x": {"datum": 7.8}, "y": {"datum": 0.14}}},
        {"data": {"values": [{}]}, "mark": {"type": "text", "text": "×10⁻³", "align": "left", "baseline": "top", "fontSize": 10.5, "dx": 0, "dy": 13}, "encoding": {"x": {"datum": 16.38}, "y": {"datum": 0.14}}}
      ]
    },
    {
      "title": "T=157.0MeV", "width": 351, "height": 222,
      "layer": [
        {"data": {"name": "pts"}, "transform": [{"filter": "datum.p == 'C'"}],
         "mark": {"type": "point", "filled": true, "opacity": 0, "size": 34},
         "encoding": {"x": {"field": "x", "type": "quantitative"}, "y": {"field": "y", "type": "quantitative"},
           "color": {"field": "s", "type": "nominal", "legend": {"orient": "top-right", "offset": 11, "padding": 0, "title": null, "labelFontSize": 12.5, "labelOffset": 16, "rowPadding": 1, "symbolSize": 160, "labelColor": "#000",
             "encode": {"symbols": {"update": {
               "shape": {"signal": "['M-0.42,-0.42H0.42V0.42H-0.42Z M0,-1V1 M-0.55,-1H0.55 M-0.55,1H0.55','M0.42,0A0.42,0.42,0,1,1,-0.42,0A0.42,0.42,0,1,1,0.42,0Z M0,-1V1 M-0.55,-1H0.55 M-0.55,1H0.55','M0,-0.55L0.42,0L0,0.55L-0.42,0Z M0,-1V1 M-0.55,-1H0.55 M-0.55,1H0.55','M0,-0.5L0.45,0.35H-0.45Z M0,-1V1 M-0.55,-1H0.55 M-0.55,1H0.55'][datum.index]"},
               "stroke": {"signal": "['#dc143c','#4682b4','#ffa500','#008000'][datum.index]"},
               "strokeWidth": {"value": 1}, "opacity": {"value": 1}}}}}}}},
        {"data": {"name": "bands"}, "transform": [{"filter": "datum.p == 'C'"}],
         "mark": {"type": "area", "opacity": 0.6},
         "encoding": {
           "x": {"field": "x", "type": "quantitative", "scale": {"domain": [-0.78, 16.38], "nice": false, "zero": false}, "axis": {"title": null, "values": [0,2,4,6,8,10,12,14,16], "tickCount": 20, "format": "d", "labelOverlap": false}},
           "y": {"field": "lo", "type": "quantitative", "scale": {"domain": [-0.128, 0.15], "nice": false, "zero": false}, "axis": {"title": null, "values": [-0.1,-0.05,0,0.05,0.1,0.15], "tickCount": 20, "labelOverlap": false, "labelExpr": "replace(format(datum.value, '.2f'), '\u2212', '-')"}},
           "y2": {"field": "hi"},
           "color": {"field": "s", "type": "nominal", "scale": {"domain": ["eB=0.17 GeV²","eB=0.35 GeV²","eB=0.52 GeV²","eB=0.69 GeV²"], "range": ["#dc143c","#4682b4","#ffa500","#008000"]}}}},
        {"data": {"name": "pts"}, "transform": [{"filter": "datum.p == 'C'"}],
         "mark": {"type": "rule", "strokeWidth": 1},
         "encoding": {"x": {"field": "x", "type": "quantitative"}, "y": {"field": "lo", "type": "quantitative"}, "y2": {"field": "hi"}, "color": {"field": "s", "type": "nominal"}}},
        {"data": {"name": "pts"}, "transform": [{"filter": "datum.p == 'C'"}],
         "mark": {"type": "tick", "orient": "horizontal", "size": 7, "thickness": 1},
         "encoding": {"x": {"field": "x", "type": "quantitative"}, "y": {"field": "lo", "type": "quantitative"}, "color": {"field": "s", "type": "nominal"}}},
        {"data": {"name": "pts"}, "transform": [{"filter": "datum.p == 'C'"}],
         "mark": {"type": "tick", "orient": "horizontal", "size": 7, "thickness": 1},
         "encoding": {"x": {"field": "x", "type": "quantitative"}, "y": {"field": "hi", "type": "quantitative"}, "color": {"field": "s", "type": "nominal"}}},
        {"data": {"name": "pts"}, "transform": [{"filter": "datum.p == 'C'"}],
         "mark": {"type": "point", "filled": true, "opacity": 1, "size": 34},
         "encoding": {"x": {"field": "x", "type": "quantitative"}, "y": {"field": "y", "type": "quantitative"},
           "shape": {"field": "s", "type": "nominal", "scale": {"range": ["square","circle","diamond","triangle-up"]}, "legend": null},
           "color": {"field": "s", "type": "nominal"}}},
        {"data": {"values": [{}]}, "mark": {"type": "text", "text": "ΔΣ", "align": "left", "baseline": "alphabetic", "fontSize": 15, "dx": -1, "dy": 27}, "encoding": {"x": {"datum": 0}, "y": {"datum": 0.15}}},
        {"data": {"values": [{}]}, "mark": {"type": "text", "text": "ud", "align": "left", "baseline": "alphabetic", "fontSize": 10.5, "fontStyle": "italic", "dx": 19, "dy": 31}, "encoding": {"x": {"datum": 0}, "y": {"datum": 0.15}}},
        {"data": {"values": [{}]}, "mark": {"type": "text", "text": "1/N", "align": "right", "baseline": "alphabetic", "fontSize": 15, "dx": 12, "dy": 36}, "encoding": {"x": {"datum": 7.8}, "y": {"datum": -0.128}}},
        {"data": {"values": [{}]}, "mark": {"type": "text", "text": "2", "align": "left", "baseline": "alphabetic", "fontSize": 10, "dx": 13, "dy": 28}, "encoding": {"x": {"datum": 7.8}, "y": {"datum": -0.128}}},
        {"data": {"values": [{}]}, "mark": {"type": "text", "text": "τ", "align": "left", "baseline": "alphabetic", "fontSize": 10, "dx": 12, "dy": 39}, "encoding": {"x": {"datum": 7.8}, "y": {"datum": -0.128}}},
        {"data": {"values": [{}]}, "mark": {"type": "text", "text": "×10⁻³", "align": "left", "baseline": "top", "fontSize": 10.5, "dx": 0, "dy": 13}, "encoding": {"x": {"datum": 16.38}, "y": {"datum": -0.128}}}
      ]
    },
    {
      "title": "T=157.0MeV", "width": 351, "height": 222,
      "layer": [
        {"data": {"name": "pts"}, "transform": [{"filter": "datum.p == 'D'"}],
         "mark": {"type": "point", "filled": true, "opacity": 0, "size": 34},
         "encoding": {"x": {"field": "x", "type": "quantitative"}, "y": {"field": "y", "type": "quantitative"},
           "color": {"field": "s", "type": "nominal", "legend": {"orient": "top-right", "offset": 17, "padding": 0, "title": null, "labelFontSize": 10.5, "labelOffset": 8, "rowPadding": 0, "symbolSize": 121, "labelColor": "#000",
             "encode": {"symbols": {"update": {
               "shape": {"signal": "['M-0.42,-0.42H0.42V0.42H-0.42Z M0,-1V1 M-0.55,-1H0.55 M-0.55,1H0.55','M0.42,0A0.42,0.42,0,1,1,-0.42,0A0.42,0.42,0,1,1,0.42,0Z M0,-1V1 M-0.55,-1H0.55 M-0.55,1H0.55','M0,-0.55L0.42,0L0,0.55L-0.42,0Z M0,-1V1 M-0.55,-1H0.55 M-0.55,1H0.55','M0,-0.5L0.45,0.35H-0.45Z M0,-1V1 M-0.55,-1H0.55 M-0.55,1H0.55','M0.42,0A0.42,0.42,0,1,1,-0.42,0A0.42,0.42,0,1,1,0.42,0Z M0,-1V1 M-0.55,-1H0.55 M-0.55,1H0.55'][datum.index]"},
               "stroke": {"signal": "['#dc143c','#4682b4','#ffa500','#008000','#800080'][datum.index]"},
               "strokeWidth": {"value": 1}, "opacity": {"value": 1}}}}}}}},
        {"data": {"name": "bands"}, "transform": [{"filter": "datum.p == 'D'"}],
         "mark": {"type": "area", "opacity": 0.6},
         "encoding": {
           "x": {"field": "x", "type": "quantitative", "scale": {"domain": [-0.78, 16.38], "nice": false, "zero": false}, "axis": {"title": null, "values": [0,2,4,6,8,10,12,14,16], "tickCount": 20, "format": "d", "labelOverlap": false}},
           "y": {"field": "lo", "type": "quantitative", "scale": {"domain": [0.52, 0.6004], "nice": false, "zero": false}, "axis": {"title": null, "values": [0.52,0.53,0.54,0.55,0.56,0.57,0.58,0.59,0.6], "tickCount": 20, "labelOverlap": false, "labelExpr": "replace(format(datum.value, '.2f'), '\u2212', '-')"}},
           "y2": {"field": "hi"},
           "color": {"field": "s", "type": "nominal", "scale": {"domain": ["eB=0.00 GeV²","eB=0.17 GeV²","eB=0.35 GeV²","eB=0.52 GeV²","eB=0.69 GeV²"], "range": ["#dc143c","#4682b4","#ffa500","#008000","#800080"]}}}},
        {"data": {"name": "pts"}, "transform": [{"filter": "datum.p == 'D'"}],
         "mark": {"type": "rule", "strokeWidth": 1},
         "encoding": {"x": {"field": "x", "type": "quantitative"}, "y": {"field": "lo", "type": "quantitative"}, "y2": {"field": "hi"}, "color": {"field": "s", "type": "nominal"}}},
        {"data": {"name": "pts"}, "transform": [{"filter": "datum.p == 'D'"}],
         "mark": {"type": "tick", "orient": "horizontal", "size": 7, "thickness": 1},
         "encoding": {"x": {"field": "x", "type": "quantitative"}, "y": {"field": "lo", "type": "quantitative"}, "color": {"field": "s", "type": "nominal"}}},
        {"data": {"name": "pts"}, "transform": [{"filter": "datum.p == 'D'"}],
         "mark": {"type": "tick", "orient": "horizontal", "size": 7, "thickness": 1},
         "encoding": {"x": {"field": "x", "type": "quantitative"}, "y": {"field": "hi", "type": "quantitative"}, "color": {"field": "s", "type": "nominal"}}},
        {"data": {"name": "pts"}, "transform": [{"filter": "datum.p == 'D'"}],
         "mark": {"type": "point", "filled": true, "opacity": 1, "size": 34},
         "encoding": {"x": {"field": "x", "type": "quantitative"}, "y": {"field": "y", "type": "quantitative"},
           "shape": {"field": "s", "type": "nominal", "scale": {"range": ["square","circle","diamond","triangle-up","circle"]}, "legend": null},
           "color": {"field": "s", "type": "nominal"}}},
        {"data": {"values": [{}]}, "mark": {"type": "text", "text": "M", "align": "left", "baseline": "alphabetic", "fontSize": 15, "fontStyle": "italic", "dx": -1, "dy": 27}, "encoding": {"x": {"datum": 0}, "y": {"datum": 0.6004}}},
        {"data": {"values": [{}]}, "mark": {"type": "text", "text": "scr", "align": "left", "baseline": "alphabetic", "fontSize": 10, "fontStyle": "italic", "dx": 12, "dy": 21}, "encoding": {"x": {"datum": 0}, "y": {"datum": 0.6004}}},
        {"data": {"values": [{}]}, "mark": {"type": "text", "text": "[GeV]", "align": "left", "baseline": "alphabetic", "fontSize": 15, "fontStyle": "italic", "dx": 26, "dy": 27}, "encoding": {"x": {"datum": 0}, "y": {"datum": 0.6004}}},
        {"data": {"values": [{}]}, "mark": {"type": "text", "text": "K", "align": "left", "baseline": "alphabetic", "fontSize": 15, "fontStyle": "italic", "dy": 22}, "encoding": {"x": {"datum": 7.4}, "y": {"datum": 0.6004}}},
        {"data": {"values": [{}]}, "mark": {"type": "text", "text": "0", "align": "left", "baseline": "alphabetic", "fontSize": 10, "dx": 12, "dy": 15}, "encoding": {"x": {"datum": 7.4}, "y": {"datum": 0.6004}}},
        {"data": {"values": [{}]}, "mark": {"type": "text", "text": "1/N", "align": "right", "baseline": "alphabetic", "fontSize": 15, "dx": 10, "dy": 36}, "encoding": {"x": {"datum": 7.8}, "y": {"datum": 0.52}}},
        {"data": {"values": [{}]}, "mark": {"type": "text", "text": "2", "align": "left", "baseline": "alphabetic", "fontSize": 10, "dx": 11, "dy": 28}, "encoding": {"x": {"datum": 7.8}, "y": {"datum": 0.52}}},
        {"data": {"values": [{}]}, "mark": {"type": "text", "text": "τ", "align": "left", "baseline": "alphabetic", "fontSize": 10, "dx": 10, "dy": 39}, "encoding": {"x": {"datum": 7.8}, "y": {"datum": 0.52}}},
        {"data": {"values": [{}]}, "mark": {"type": "text", "text": "×10⁻³", "align": "left", "baseline": "top", "fontSize": 10.5, "dx": 0, "dy": 13}, "encoding": {"x": {"datum": 16.38}, "y": {"datum": 0.52}}}
      ]
    },
    {
      "title": "T=166.0MeV", "width": 351, "height": 222,
      "layer": [
        {"data": {"name": "pts"}, "transform": [{"filter": "datum.p == 'E'"}],
         "mark": {"type": "point", "filled": true, "opacity": 0, "size": 34},
         "encoding": {"x": {"field": "x", "type": "quantitative"}, "y": {"field": "y", "type": "quantitative"},
           "color": {"field": "s", "type": "nominal", "legend": {"orient": "top-right", "offset": 11, "padding": 0, "title": null, "labelFontSize": 12.5, "labelOffset": 16, "rowPadding": 1, "symbolSize": 160, "labelColor": "#000",
             "encode": {"symbols": {"update": {
               "shape": {"signal": "['M-0.42,-0.42H0.42V0.42H-0.42Z M0,-1V1 M-0.55,-1H0.55 M-0.55,1H0.55','M0.42,0A0.42,0.42,0,1,1,-0.42,0A0.42,0.42,0,1,1,0.42,0Z M0,-1V1 M-0.55,-1H0.55 M-0.55,1H0.55','M0,-0.55L0.42,0L0,0.55L-0.42,0Z M0,-1V1 M-0.55,-1H0.55 M-0.55,1H0.55','M0,-0.5L0.45,0.35H-0.45Z M0,-1V1 M-0.55,-1H0.55 M-0.55,1H0.55'][datum.index]"},
               "stroke": {"signal": "['#dc143c','#4682b4','#ffa500','#008000'][datum.index]"},
               "strokeWidth": {"value": 1}, "opacity": {"value": 1}}}}}}}},
        {"data": {"name": "bands"}, "transform": [{"filter": "datum.p == 'E'"}],
         "mark": {"type": "area", "opacity": 0.6},
         "encoding": {
           "x": {"field": "x", "type": "quantitative", "scale": {"domain": [-0.78, 16.38], "nice": false, "zero": false}, "axis": {"title": null, "values": [0,2,4,6,8,10,12,14,16], "tickCount": 20, "format": "d", "labelOverlap": false}},
           "y": {"field": "lo", "type": "quantitative", "scale": {"domain": [-0.13, 0.1], "nice": false, "zero": false}, "axis": {"title": null, "values": [-0.1,-0.05,0,0.05,0.1], "tickCount": 20, "labelOverlap": false, "labelExpr": "replace(format(datum.value, '.2f'), '\u2212', '-')"}},
           "y2": {"field": "hi"},
           "color": {"field": "s", "type": "nominal", "scale": {"domain": ["eB=0.19 GeV²","eB=0.39 GeV²","eB=0.58 GeV²","eB=0.78 GeV²"], "range": ["#dc143c","#4682b4","#ffa500","#008000"]}}}},
        {"data": {"name": "pts"}, "transform": [{"filter": "datum.p == 'E'"}],
         "mark": {"type": "rule", "strokeWidth": 1},
         "encoding": {"x": {"field": "x", "type": "quantitative"}, "y": {"field": "lo", "type": "quantitative"}, "y2": {"field": "hi"}, "color": {"field": "s", "type": "nominal"}}},
        {"data": {"name": "pts"}, "transform": [{"filter": "datum.p == 'E'"}],
         "mark": {"type": "tick", "orient": "horizontal", "size": 7, "thickness": 1},
         "encoding": {"x": {"field": "x", "type": "quantitative"}, "y": {"field": "lo", "type": "quantitative"}, "color": {"field": "s", "type": "nominal"}}},
        {"data": {"name": "pts"}, "transform": [{"filter": "datum.p == 'E'"}],
         "mark": {"type": "tick", "orient": "horizontal", "size": 7, "thickness": 1},
         "encoding": {"x": {"field": "x", "type": "quantitative"}, "y": {"field": "hi", "type": "quantitative"}, "color": {"field": "s", "type": "nominal"}}},
        {"data": {"name": "pts"}, "transform": [{"filter": "datum.p == 'E'"}],
         "mark": {"type": "point", "filled": true, "opacity": 1, "size": 34},
         "encoding": {"x": {"field": "x", "type": "quantitative"}, "y": {"field": "y", "type": "quantitative"},
           "shape": {"field": "s", "type": "nominal", "scale": {"range": ["square","circle","diamond","triangle-up"]}, "legend": null},
           "color": {"field": "s", "type": "nominal"}}},
        {"data": {"values": [{}]}, "mark": {"type": "text", "text": "ΔΣ", "align": "left", "baseline": "alphabetic", "fontSize": 15, "dx": -1, "dy": 27}, "encoding": {"x": {"datum": 0}, "y": {"datum": 0.1}}},
        {"data": {"values": [{}]}, "mark": {"type": "text", "text": "ud", "align": "left", "baseline": "alphabetic", "fontSize": 10.5, "fontStyle": "italic", "dx": 19, "dy": 31}, "encoding": {"x": {"datum": 0}, "y": {"datum": 0.1}}},
        {"data": {"values": [{}]}, "mark": {"type": "text", "text": "1/N", "align": "right", "baseline": "alphabetic", "fontSize": 15, "dx": 12, "dy": 36}, "encoding": {"x": {"datum": 7.8}, "y": {"datum": -0.13}}},
        {"data": {"values": [{}]}, "mark": {"type": "text", "text": "2", "align": "left", "baseline": "alphabetic", "fontSize": 10, "dx": 13, "dy": 28}, "encoding": {"x": {"datum": 7.8}, "y": {"datum": -0.13}}},
        {"data": {"values": [{}]}, "mark": {"type": "text", "text": "τ", "align": "left", "baseline": "alphabetic", "fontSize": 10, "dx": 12, "dy": 39}, "encoding": {"x": {"datum": 7.8}, "y": {"datum": -0.13}}},
        {"data": {"values": [{}]}, "mark": {"type": "text", "text": "×10⁻³", "align": "left", "baseline": "top", "fontSize": 10.5, "dx": 0, "dy": 13}, "encoding": {"x": {"datum": 16.38}, "y": {"datum": -0.13}}}
      ]
    },
    {
      "title": "T=166.0MeV", "width": 351, "height": 222,
      "layer": [
        {"data": {"name": "pts"}, "transform": [{"filter": "datum.p == 'F'"}],
         "mark": {"type": "point", "filled": true, "opacity": 0, "size": 34},
         "encoding": {"x": {"field": "x", "type": "quantitative"}, "y": {"field": "y", "type": "quantitative"},
           "color": {"field": "s", "type": "nominal", "legend": {"orient": "top-right", "offset": 17, "padding": 0, "title": null, "labelFontSize": 10.5, "labelOffset": 8, "rowPadding": 0, "symbolSize": 121, "labelColor": "#000",
             "encode": {"symbols": {"update": {
               "shape": {"signal": "['M-0.42,-0.42H0.42V0.42H-0.42Z M0,-1V1 M-0.55,-1H0.55 M-0.55,1H0.55','M0.42,0A0.42,0.42,0,1,1,-0.42,0A0.42,0.42,0,1,1,0.42,0Z M0,-1V1 M-0.55,-1H0.55 M-0.55,1H0.55','M0,-0.55L0.42,0L0,0.55L-0.42,0Z M0,-1V1 M-0.55,-1H0.55 M-0.55,1H0.55','M0,-0.5L0.45,0.35H-0.45Z M0,-1V1 M-0.55,-1H0.55 M-0.55,1H0.55','M0.42,0A0.42,0.42,0,1,1,-0.42,0A0.42,0.42,0,1,1,0.42,0Z M0,-1V1 M-0.55,-1H0.55 M-0.55,1H0.55'][datum.index]"},
               "stroke": {"signal": "['#dc143c','#4682b4','#ffa500','#008000','#800080'][datum.index]"},
               "strokeWidth": {"value": 1}, "opacity": {"value": 1}}}}}}}},
        {"data": {"name": "bands"}, "transform": [{"filter": "datum.p == 'F'"}],
         "mark": {"type": "area", "opacity": 0.6},
         "encoding": {
           "x": {"field": "x", "type": "quantitative", "scale": {"domain": [-0.78, 16.38], "nice": false, "zero": false}, "axis": {"title": null, "values": [0,2,4,6,8,10,12,14,16], "tickCount": 20, "format": "d", "labelOverlap": false}},
           "y": {"field": "lo", "type": "quantitative", "scale": {"domain": [0.6904, 0.8102], "nice": false, "zero": false}, "axis": {"title": null, "values": [0.7,0.72,0.74,0.76,0.78,0.8], "tickCount": 20, "labelOverlap": false, "labelExpr": "replace(format(datum.value, '.2f'), '\u2212', '-')"}},
           "y2": {"field": "hi"},
           "color": {"field": "s", "type": "nominal", "scale": {"domain": ["eB=0.00 GeV²","eB=0.19 GeV²","eB=0.39 GeV²","eB=0.58 GeV²","eB=0.78 GeV²"], "range": ["#dc143c","#4682b4","#ffa500","#008000","#800080"]}}}},
        {"data": {"name": "pts"}, "transform": [{"filter": "datum.p == 'F'"}],
         "mark": {"type": "rule", "strokeWidth": 1},
         "encoding": {"x": {"field": "x", "type": "quantitative"}, "y": {"field": "lo", "type": "quantitative"}, "y2": {"field": "hi"}, "color": {"field": "s", "type": "nominal"}}},
        {"data": {"name": "pts"}, "transform": [{"filter": "datum.p == 'F'"}],
         "mark": {"type": "tick", "orient": "horizontal", "size": 7, "thickness": 1},
         "encoding": {"x": {"field": "x", "type": "quantitative"}, "y": {"field": "lo", "type": "quantitative"}, "color": {"field": "s", "type": "nominal"}}},
        {"data": {"name": "pts"}, "transform": [{"filter": "datum.p == 'F'"}],
         "mark": {"type": "tick", "orient": "horizontal", "size": 7, "thickness": 1},
         "encoding": {"x": {"field": "x", "type": "quantitative"}, "y": {"field": "hi", "type": "quantitative"}, "color": {"field": "s", "type": "nominal"}}},
        {"data": {"name": "pts"}, "transform": [{"filter": "datum.p == 'F'"}],
         "mark": {"type": "point", "filled": true, "opacity": 1, "size": 34},
         "encoding": {"x": {"field": "x", "type": "quantitative"}, "y": {"field": "y", "type": "quantitative"},
           "shape": {"field": "s", "type": "nominal", "scale": {"range": ["square","circle","diamond","triangle-up","circle"]}, "legend": null},
           "color": {"field": "s", "type": "nominal"}}},
        {"data": {"values": [{}]}, "mark": {"type": "text", "text": "M", "align": "left", "baseline": "alphabetic", "fontSize": 15, "fontStyle": "italic", "dx": -1, "dy": 27}, "encoding": {"x": {"datum": 0}, "y": {"datum": 0.8102}}},
        {"data": {"values": [{}]}, "mark": {"type": "text", "text": "scr", "align": "left", "baseline": "alphabetic", "fontSize": 10, "fontStyle": "italic", "dx": 12, "dy": 21}, "encoding": {"x": {"datum": 0}, "y": {"datum": 0.8102}}},
        {"data": {"values": [{}]}, "mark": {"type": "text", "text": "[GeV]", "align": "left", "baseline": "alphabetic", "fontSize": 15, "fontStyle": "italic", "dx": 26, "dy": 27}, "encoding": {"x": {"datum": 0}, "y": {"datum": 0.8102}}},
        {"data": {"values": [{}]}, "mark": {"type": "text", "text": "η", "align": "left", "baseline": "alphabetic", "fontSize": 15, "fontStyle": "italic", "dy": 24}, "encoding": {"x": {"datum": 7.4}, "y": {"datum": 0.8102}}},
        {"data": {"values": [{}]}, "mark": {"type": "text", "text": "0", "align": "left", "baseline": "alphabetic", "fontSize": 10, "dx": 9, "dy": 16}, "encoding": {"x": {"datum": 7.4}, "y": {"datum": 0.8102}}},
        {"data": {"values": [{}]}, "mark": {"type": "text", "text": "ss̄", "align": "left", "baseline": "alphabetic", "fontSize": 10, "fontStyle": "italic", "dx": 8, "dy": 29}, "encoding": {"x": {"datum": 7.4}, "y": {"datum": 0.8102}}},
        {"data": {"values": [{}]}, "mark": {"type": "text", "text": "1/N", "align": "right", "baseline": "alphabetic", "fontSize": 15, "dx": 10, "dy": 36}, "encoding": {"x": {"datum": 7.8}, "y": {"datum": 0.6904}}},
        {"data": {"values": [{}]}, "mark": {"type": "text", "text": "2", "align": "left", "baseline": "alphabetic", "fontSize": 10, "dx": 11, "dy": 28}, "encoding": {"x": {"datum": 7.8}, "y": {"datum": 0.6904}}},
        {"data": {"values": [{}]}, "mark": {"type": "text", "text": "τ", "align": "left", "baseline": "alphabetic", "fontSize": 10, "dx": 10, "dy": 39}, "encoding": {"x": {"datum": 7.8}, "y": {"datum": 0.6904}}},
        {"data": {"values": [{}]}, "mark": {"type": "text", "text": "×10⁻³", "align": "left", "baseline": "top", "fontSize": 10.5, "dx": 0, "dy": 13}, "encoding": {"x": {"datum": 16.38}, "y": {"datum": 0.6904}}}
      ]
    }
  ]
}
